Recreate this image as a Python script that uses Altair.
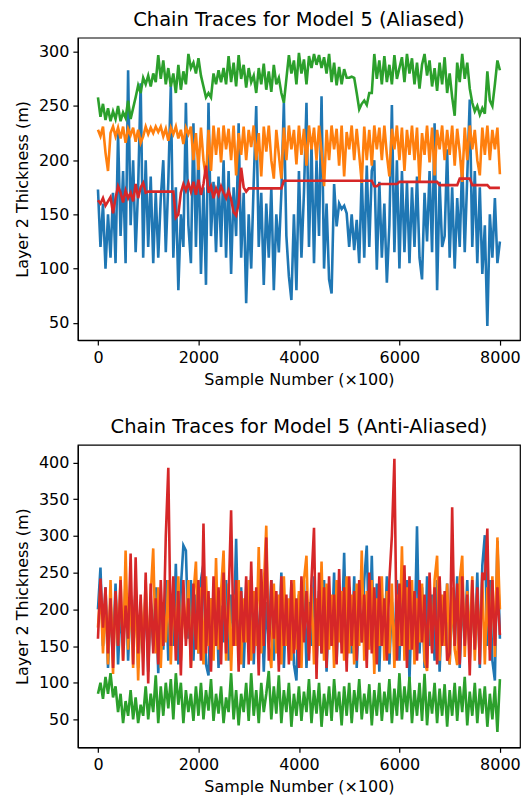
import altair as alt
import pandas as pd

# Sample positions (x100), every 50 samples
samples = list(range(0, 8001, 50))

# ---------------- Aliased panel ----------------
top_blue = [
    173, 120, 160, 100, 150, 110, 170, 105, 225, 130, 190, 105, 283, 140, 200, 115, 175, 271, 110, 200,
    120, 185, 105, 170, 110, 165, 200, 115, 180, 269, 110, 175, 80, 150, 120, 253, 140, 105, 234, 120,
    210, 95, 175, 85, 253, 130, 180, 115, 185, 120, 200, 110, 190, 95, 175, 130, 234, 110, 170, 68,
    150, 100, 180, 250, 120, 170, 85, 160, 110, 175, 80, 150, 115, 170, 253, 130, 93, 71, 150, 80,
    190, 110, 170, 253, 120, 215, 105, 200, 130, 259, 100, 160, 90, 77, 178, 139, 160, 155, 158, 151,
    120, 150, 117, 145, 105, 186, 110, 195, 120, 190, 200, 99, 180, 110, 160, 87, 140, 251, 115, 200,
    100, 190, 115, 180, 105, 175, 120, 185, 110, 90, 170, 125, 190, 115, 234, 80, 180, 120, 130, 210,
    110, 175, 100, 165, 120, 200, 115, 185, 256, 120, 190, 105, 175, 95, 140, 47, 150, 110, 165, 105, 125,
]
top_orange = [
    228, 222, 231, 207, 190, 225, 231, 222, 230, 220, 231, 216, 229, 223, 230, 217, 228, 216, 222, 231,
    224, 230, 225, 231, 226, 231, 222, 229, 218, 230, 224, 231, 220, 228, 215, 230, 224, 231, 200, 225,
    191, 230, 200, 183, 228, 190, 232, 205, 230, 198, 232, 210, 229, 200, 232, 186, 225, 205, 231, 200,
    228, 212, 232, 200, 225, 185, 231, 208, 232, 200, 183, 228, 205, 183, 230, 200, 232, 210, 228, 196,
    232, 205, 229, 195, 232, 210, 230, 200, 232, 208, 176, 228, 200, 232, 210, 229, 195, 232, 185, 226,
    210, 232, 200, 229, 205, 179, 231, 200, 228, 195, 232, 210, 230, 200, 232, 205, 185, 229, 210, 232,
    200, 230, 190, 228, 205, 232, 200, 230, 180, 225, 205, 232, 198, 230, 186, 228, 210, 232, 200, 228,
    205, 232, 195, 229, 208, 180, 230, 200, 232, 210, 228, 200, 186, 230, 205, 232, 200, 228, 210, 230, 187,
]
top_green = [
    258, 240, 252, 237, 248, 236, 245, 238, 250, 236, 244, 239, 255, 238, 248, 258, 269, 262, 276, 270,
    278, 268, 280, 272, 297, 275, 292, 270, 285, 268, 280, 262, 288, 265, 282, 270, 298, 285, 290, 280,
    294, 278, 268, 258, 262, 258, 280, 270, 283, 272, 285, 270, 296, 272, 290, 268, 297, 275, 288, 267,
    285, 272, 278, 262, 285, 270, 289, 265, 282, 263, 288, 270, 276, 262, 253, 275, 297, 280, 292, 270,
    299, 280, 293, 270, 296, 285, 298, 288, 297, 285, 295, 280, 298, 272, 290, 269, 286, 270, 284, 276,
    276, 277, 276, 262, 247, 252, 255, 251, 262, 262, 298, 275, 292, 270, 296, 272, 288, 270, 297, 275,
    285, 295, 272, 298, 280, 294, 270, 290, 266, 288, 298, 278, 292, 268, 285, 264, 290, 270, 295, 262,
    280, 258, 241, 290, 272, 298, 275, 290, 266, 253, 245, 250, 242, 248, 243, 282, 255, 250, 270, 292, 283,
]
top_red = [
    163, 160, 165, 158, 162, 166, 151, 165, 176, 170, 161, 172, 165, 170, 162, 178, 165, 175, 179, 170,
    171, 171, 171, 171, 171, 171, 171, 171, 171, 171, 171, 147, 150, 170, 178, 172, 179, 171, 180, 168,
    182, 168, 178, 195, 170, 176, 165, 174, 168, 176, 170, 165, 172, 164, 152, 149, 160, 193, 175, 171,
    174, 174, 174, 174, 174, 174, 174, 174, 174, 174, 174, 174, 174, 174, 181, 181, 181, 181, 181, 181,
    181, 181, 181, 181, 181, 181, 181, 181, 181, 181, 181, 181, 181, 181, 181, 181, 181, 181, 181, 181,
    181, 181, 181, 181, 181, 181, 181, 181, 181, 181, 176, 176, 178, 178, 178, 178, 178, 178, 178, 178,
    180, 180, 180, 180, 180, 180, 180, 180, 180, 180, 180, 180, 180, 180, 180, 180, 177, 177, 177, 177,
    177, 177, 177, 177, 183, 183, 183, 183, 183, 177, 177, 177, 177, 177, 177, 177, 174.5, 174.5, 174.5, 174.5, 174.5,
]

# ---------------- Anti-aliased panel ----------------
bot_blue = [
    200, 257, 150, 230, 120, 210, 140, 235, 125, 200, 150, 240, 130, 215, 160, 230, 120, 200, 140, 225,
    115, 210, 150, 230, 113, 200, 145, 240, 130, 215, 150, 262, 125, 230, 287, 280, 160, 240, 130, 220,
    140, 240, 262, 125, 110, 215, 150, 235, 120, 205, 155, 240, 130, 220, 160, 296, 140, 230, 120, 210,
    150, 245, 125, 220, 140, 235, 115, 210, 155, 240, 130, 220, 145, 250, 120, 215, 150, 235, 125, 103,
    220, 145, 240, 120, 210, 150, 245, 125, 225, 140, 240, 115, 215, 150, 250, 130, 225, 160, 277, 130,
    230, 140, 245, 120, 215, 155, 240, 287, 150, 273, 130, 235, 115, 220, 150, 245, 125, 210, 145, 240,
    130, 225, 160, 240, 103, 215, 150, 313, 140, 230, 120, 245, 150, 220, 130, 240, 115, 210, 155, 235,
    125, 220, 150, 245, 120, 215, 160, 240, 130, 225, 145, 250, 120, 260, 301, 150, 240, 130, 103, 293, 160,
]
bot_orange = [
    175, 230, 140, 215, 125, 240, 112, 220, 150, 245, 130, 280, 145, 225, 120, 235, 103, 210, 150, 240,
    130, 220, 283, 140, 230, 120, 210, 155, 240, 125, 225, 150, 245, 130, 215, 160, 240, 120, 220, 265,
    140, 230, 125, 245, 150, 215, 130, 270, 145, 225, 280, 130, 235, 116, 220, 150, 240, 125, 215, 155,
    240, 130, 225, 150, 285, 140, 230, 314, 150, 120, 235, 140, 220, 125, 245, 150, 215, 130, 240, 145,
    225, 120, 240, 273, 140, 230, 125, 215, 150, 265, 130, 235, 145, 220, 120, 240, 155, 225, 130, 245,
    140, 220, 125, 235, 150, 280, 130, 225, 145, 240, 112, 215, 150, 245, 130, 225, 140, 235, 120, 220,
    150, 286, 130, 230, 145, 240, 125, 215, 155, 235, 130, 116, 225, 145, 240, 273, 130, 220, 150, 235,
    125, 230, 145, 124, 240, 273, 135, 225, 150, 245, 130, 220, 150, 240, 125, 230, 145, 245, 135, 298, 200,
]
bot_green = [
    85, 100, 78, 108, 85, 113, 80, 95, 60, 85, 45, 75, 55, 90, 50, 80, 45, 70, 55, 95,
    50, 85, 60, 110, 45, 95, 55, 100, 65, 105, 50, 113, 70, 100, 45, 90, 60, 85, 48, 95,
    55, 100, 50, 90, 62, 105, 48, 85, 58, 95, 45, 80, 60, 113, 50, 90, 42, 85, 60, 100,
    48, 113, 55, 90, 45, 100, 60, 85, 116, 50, 95, 58, 110, 45, 90, 60, 100, 40, 85, 55,
    95, 48, 88, 60, 105, 45, 90, 58, 100, 40, 85, 55, 95, 48, 105, 60, 88, 42, 95, 55,
    100, 45, 90, 60, 105, 50, 85, 58, 98, 42, 90, 55, 100, 48, 88, 60, 105, 45, 92, 55,
    113, 50, 95, 60, 108, 45, 90, 55, 100, 48, 112, 42, 88, 58, 100, 45, 92, 55, 98, 40,
    90, 55, 100, 48, 95, 60, 108, 42, 88, 55, 100, 45, 92, 58, 95, 40, 85, 50, 95, 33, 105,
]
bot_red = [
    160, 242, 175, 230, 140, 215, 120, 225, 150, 240, 130, 205, 160, 276, 125, 271, 140, 220, 110, 250,
    99, 235, 140, 215, 125, 240, 150, 300, 393, 150, 245, 130, 225, 110, 240, 150, 215, 120, 235, 145,
    240, 130, 317, 140, 225, 115, 245, 150, 230, 125, 250, 140, 215, 335, 150, 240, 115, 225, 155, 245,
    125, 265, 140, 230, 110, 255, 150, 298, 130, 240, 160, 225, 115, 245, 150, 220, 125, 240, 140, 215,
    120, 245, 155, 225, 130, 240, 311, 105, 250, 140, 230, 120, 245, 150, 220, 125, 255, 140, 230, 115,
    245, 150, 225, 130, 240, 155, 220, 120, 250, 140, 230, 125, 245, 150, 215, 130, 240, 300, 405, 130,
    235, 150, 260, 120, 245, 145, 225, 130, 240, 155, 220, 120, 250, 140, 230, 125, 245, 150, 225, 130,
    140, 339, 150, 235, 125, 245, 150, 220, 110, 240, 145, 230, 125, 250, 240, 310, 130, 240, 150, 230, 165,
]

x_ticks = [0, 2000, 4000, 6000, 8000]
top_y_ticks = [50, 100, 150, 200, 250, 300]
bot_y_ticks = [50, 100, 150, 200, 250, 300, 350, 400]

BLUE, ORANGE, GREEN, RED = "#1f77b4", "#ff7f0e", "#2ca02c", "#d62728"
FONT = "DejaVu Sans"


def panel(series, title, ydomain, yticks):
    x = alt.X(
        "sample:Q",
        scale=alt.Scale(domain=[-400, 8400], nice=False, zero=False),
        axis=alt.Axis(values=x_ticks, format="d", title="Sample Number (×100)", grid=False),
    )
    y = alt.Y(
        "value:Q",
        scale=alt.Scale(domain=ydomain, nice=False, zero=False),
        axis=alt.Axis(values=yticks, title="Layer 2 Thickness (m)", grid=False),
    )
    layers = []
    for vals, color in series:
        df = pd.DataFrame({"sample": samples, "value": vals})
        layers.append(
            alt.Chart(df).mark_line(color=color, strokeWidth=2.6, clip=True).encode(x=x, y=y)
        )
    return alt.layer(*layers).properties(
        width=443, height=303, title=alt.TitleParams(title)
    )


top = panel(
    [(top_blue, BLUE), (top_orange, ORANGE), (top_green, GREEN), (top_red, RED)],
    "Chain Traces for Model 5 (Aliased)",
    [34, 313],
    top_y_ticks,
)
bottom = panel(
    [(bot_blue, BLUE), (bot_orange, ORANGE), (bot_green, GREEN), (bot_red, RED)],
    "Chain Traces for Model 5 (Anti-Aliased)",
    [12, 424],
    bot_y_ticks,
)

chart = (
    alt.vconcat(top, bottom, spacing=28)
    .properties(padding={"left": 5, "top": 0, "right": 2, "bottom": 2})
    .configure_view(stroke="black", strokeWidth=1.2)
    .configure_axis(
        domainColor="black",
        domainWidth=1.2,
        tickColor="black",
        tickWidth=1.2,
        tickSize=5,
        labelColor="black",
        titleColor="black",
        labelFont=FONT,
        titleFont=FONT,
        labelFontSize=16,
        titleFontSize=16,
        titleFontWeight="normal",
        labelPadding=4,
    )
    .configure_axisY(titlePadding=8)
    .configure_axisX(titlePadding=6)
    .configure_title(
        font=FONT, fontSize=19.5, fontWeight="normal", color="black", anchor="middle", offset=7
    )
)

chart.save("out.html", embed_options={"renderer": "svg", "actions": False})
